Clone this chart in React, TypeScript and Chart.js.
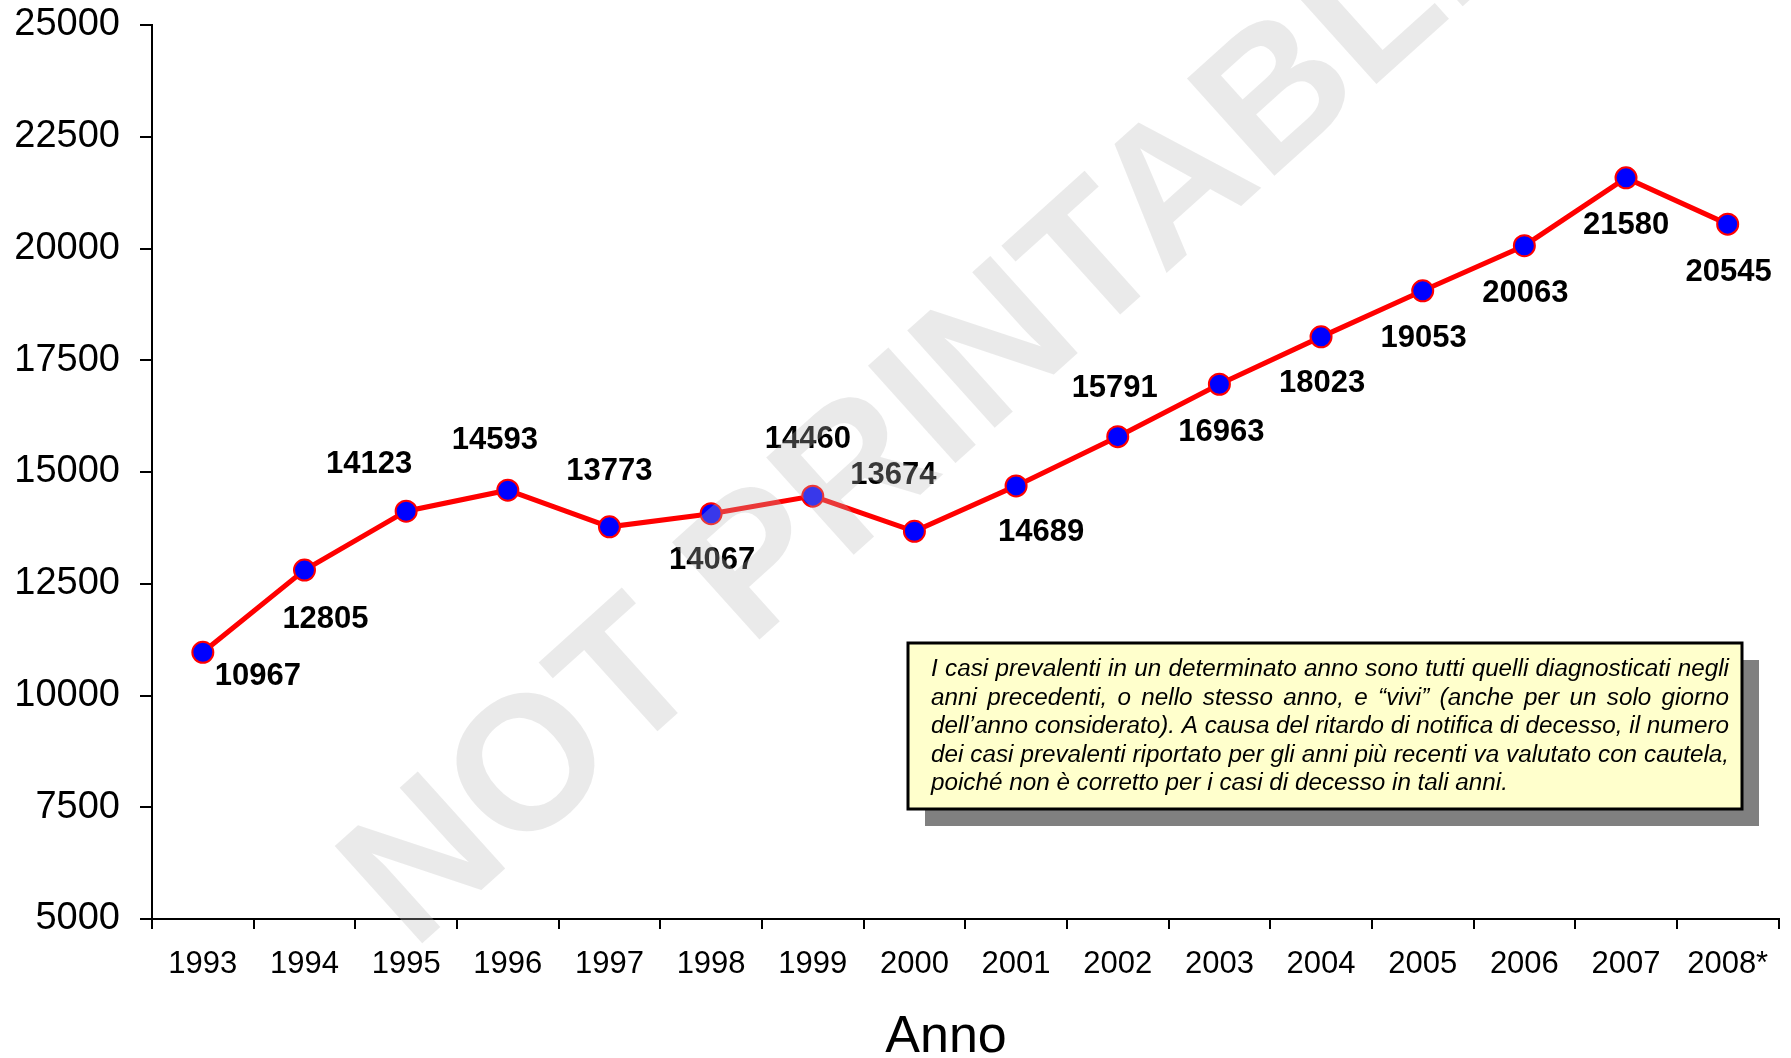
import React, { useEffect, useRef } from 'react';
import { Chart, registerables } from 'chart.js';

Chart.register(...registerables);

const FAMILY = "'Liberation Sans', Arial, Helvetica, sans-serif";

const years = ['1993', '1994', '1995', '1996', '1997', '1998', '1999', '2000', '2001', '2002', '2003', '2004', '2005', '2006', '2007', '2008*'];
const cases = [10967, 12805, 14123, 14593, 13773, 14067, 14460, 13674, 14689, 15791, 16963, 18023, 19053, 20063, 21580, 20545];

const yMin = 5000;
const yMax = 25000;
const yStep = 2500;

// label placement relative to each point (px)
const labelDx = [55, 21, -37, -13, 0, 1, -5, -21, 25, -3, 2, 1, 1, 1, 0, 1];
const labelDy = [24, 49, -47, -50, -55, 47, -57, -56, 47, -48, 48, 47, 48, 48, 48, 48];

const axisTitle = 'Anno';
const watermarkText = 'NOT PRINTABLE';
const noteLines = [
  'I casi prevalenti in un determinato anno sono tutti quelli diagnosticati negli',
  'anni precedenti, o nello stesso anno, e \u201Cvivi\u201D (anche per un solo giorno',
  'dell\u2019anno considerato). A causa del ritardo di notifica di decesso, il numero',
  'dei casi prevalenti riportato per gli anni pi\u00F9 recenti va valutato con cautela,',
  'poich\u00E9 non \u00E8 corretto per i casi di decesso in tali anni.',
];

const valueLabels = {
  id: 'valueLabels',
  afterDatasetsDraw(chart: any) {
    const ctx = chart.ctx;
    const meta = chart.getDatasetMeta(0);
    ctx.save();
    ctx.font = `bold 31px ${FAMILY}`;
    ctx.fillStyle = '#000';
    ctx.textAlign = 'center';
    ctx.textBaseline = 'middle';
    meta.data.forEach((pt: any, i: number) => {
      ctx.fillText(String(cases[i]), pt.x + labelDx[i], pt.y + labelDy[i]);
    });
    ctx.restore();
  },
};

const overlay = {
  id: 'overlay',
  afterDraw(chart: any) {
    const ctx = chart.ctx;
    // axis title
    ctx.save();
    ctx.font = `52px ${FAMILY}`;
    ctx.fillStyle = '#000';
    ctx.textAlign = 'center';
    ctx.textBaseline = 'alphabetic';
    ctx.fillText(axisTitle, 946, 1052);
    ctx.restore();

    // watermark
    ctx.save();
    ctx.translate(945, 402);
    ctx.rotate((-42 * Math.PI) / 180);
    ctx.font = `bold 190px ${FAMILY}`;
    ctx.fillStyle = 'rgba(185,185,185,0.3)';
    ctx.textAlign = 'center';
    ctx.textBaseline = 'middle';
    ctx.fillText(watermarkText, 0, 0);
    ctx.restore();

    // note box
    const bx = 908, by = 643, bw = 834, bh = 166, sh = 17;
    ctx.save();
    ctx.fillStyle = '#808080';
    ctx.fillRect(bx + sh, by + sh, bw, bh);
    ctx.fillStyle = '#ffffcc';
    ctx.fillRect(bx, by, bw, bh);
    ctx.strokeStyle = '#000';
    ctx.lineWidth = 3;
    ctx.strokeRect(bx, by, bw, bh);

    const left = 931;
    const width = 798;
    ctx.font = `italic 22px ${FAMILY}`;
    let maxW = 0;
    for (let i = 0; i < noteLines.length - 1; i++) {
      maxW = Math.max(maxW, ctx.measureText(noteLines[i]).width);
    }
    const size = Math.min(25, (22 * width) / maxW);
    ctx.font = `italic ${size.toFixed(2)}px ${FAMILY}`;
    maxW = 0;
    for (let i = 0; i < noteLines.length - 1; i++) {
      maxW = Math.max(maxW, ctx.measureText(noteLines[i]).width);
    }
    const sx = Math.min(1, width / maxW);
    const target = width / sx;
    ctx.fillStyle = '#000';
    ctx.textAlign = 'left';
    ctx.textBaseline = 'alphabetic';
    noteLines.forEach((line, i) => {
      const y = 676 + i * 28.5;
      ctx.save();
      ctx.translate(left, y);
      ctx.scale(sx, 1);
      if (i < noteLines.length - 1) {
        const words = line.split(' ');
        const ww = words.map((w) => ctx.measureText(w).width);
        const sum = ww.reduce((a, b) => a + b, 0);
        const gap = (target - sum) / (words.length - 1);
        let x = 0;
        words.forEach((w, k) => {
          ctx.fillText(w, x, 0);
          x += ww[k] + gap;
        });
      } else {
        ctx.fillText(line, 0, 0);
      }
      ctx.restore();
    });
    ctx.restore();
  },
};

export default function App() {
  const ref = useRef<HTMLCanvasElement>(null);
  useEffect(() => {
    document.body.style.margin = '0';
    const canvas = ref.current!;
    const chart = new Chart(canvas, {
      type: 'line',
      data: {
        labels: years,
        datasets: [
          {
            data: cases,
            borderColor: '#ff0000',
            borderWidth: 5,
            pointRadius: 10.5,
            pointHoverRadius: 10.5,
            pointBorderWidth: 2,
            pointBackgroundColor: '#0000ff',
            pointBorderColor: '#ff0000',
            tension: 0,
            fill: false,
          },
        ],
      },
      options: {
        responsive: false,
        animation: false,
        devicePixelRatio: 1,
        layout: { padding: { left: 0, right: 7, top: 25, bottom: 0 } },
        plugins: {
          legend: { display: false },
          tooltip: { enabled: false },
          title: { display: false },
        },
        scales: {
          x: {
            offset: true,
            grid: {
              offset: true,
              drawOnChartArea: false,
              drawTicks: true,
              tickLength: 10,
              color: '#000',
              lineWidth: 2,
            },
            border: { display: true, color: '#000', width: 2 },
            ticks: {
              color: '#000',
              font: { family: FAMILY, size: 31 },
              padding: 17,
              maxRotation: 0,
              autoSkip: false,
            },
            afterFit: (s: any) => {
              s.height = 1058 - 919;
              s.paddingLeft = 0;
              s.paddingRight = 0;
            },
          },
          y: {
            min: yMin,
            max: yMax,
            ticks: {
              stepSize: yStep,
              callback: (v: any) => String(v),
              color: '#000',
              font: { family: FAMILY, size: 38 },
              padding: 20,
            },
            grid: {
              drawOnChartArea: false,
              drawTicks: true,
              tickLength: 12,
              color: '#000',
              lineWidth: 2,
            },
            border: { display: true, color: '#000', width: 2 },
            afterFit: (s: any) => {
              s.width = 152;
              s.paddingTop = 0;
              s.paddingBottom = 0;
            },
          },
        },
      } as any,
      plugins: [valueLabels, overlay],
    });
    return () => chart.destroy();
  }, []);
  return (
    <canvas
      ref={ref}
      width={1791}
      height={1058}
      style={{ display: 'block', width: '1791px', height: '1058px' }}
    />
  );
}
